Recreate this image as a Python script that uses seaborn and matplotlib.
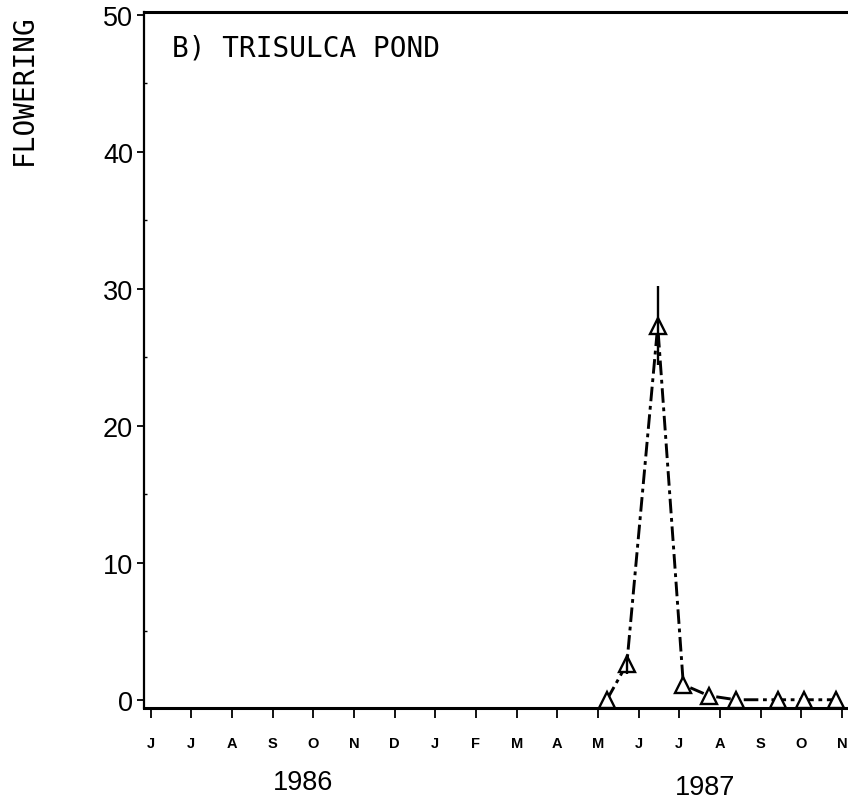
import numpy as np
import pandas as pd
import seaborn as sns
import matplotlib.pyplot as plt
from matplotlib.ticker import MultipleLocator

# month index: 0 = June 1986 ... 17 = Nov 1987
month_labels = ['J', 'J', 'A', 'S', 'O', 'N', 'D', 'J', 'F', 'M', 'A', 'M',
                'J', 'J', 'A', 'S', 'O', 'N']
sample_month = [11.22, 11.71, 12.47, 13.10, 13.72, 14.39, 15.44, 16.07, 16.85]
flowering = [0.0, 2.6, 27.3, 1.1, 0.3, 0.0, 0.0, 0.0, 0.0]
flowering_err = [0.0, 0.7, 2.9, 0.0, 0.0, 0.0, 0.0, 0.0, 0.0]
y_ticks = [0, 10, 20, 30, 40, 50]

df = pd.DataFrame({'month': sample_month, 'flowering': flowering,
                   'err': flowering_err})

sns.set_style("ticks")
plt.rcParams['font.family'] = ['Liberation Sans', 'DejaVu Sans']
plt.rcParams['text.color'] = 'black'
plt.rcParams['axes.edgecolor'] = 'black'
plt.rcParams['xtick.color'] = 'black'
plt.rcParams['ytick.color'] = 'black'

fig = plt.figure(figsize=(8.48, 8.04), dpi=100)
ax = fig.add_axes([0.1702, 0.1182, 0.8298, 0.8657])

sns.lineplot(data=df, x='month', y='flowering', ax=ax, color='black',
             lw=2.1, marker='^', markersize=11, markerfacecolor='white',
             markeredgecolor='black', markeredgewidth=1.7, zorder=2)
ax.lines[0].set_linestyle((0, (5, 1.6, 1.3, 1.6)))

sub = df[df['err'] > 0]
ax.errorbar(sub['month'], sub['flowering'], yerr=sub['err'], fmt='none',
            ecolor='black', elinewidth=1.7, capsize=0, zorder=3)

ax.set_xlim(-0.157, 17.15)
ax.set_ylim(-0.6, 50.2)
ax.set_xticks(range(len(month_labels)))
ax.set_xticklabels(month_labels, fontsize=10.5, fontweight='bold')
ax.set_yticks(y_ticks)
ax.set_yticklabels([str(v) for v in y_ticks], fontsize=19.5)
ax.yaxis.set_minor_locator(MultipleLocator(5))
ax.tick_params(axis='x', direction='out', length=7, width=1.3, pad=13)
ax.tick_params(axis='y', which='major', direction='out', length=5, width=1.3, pad=3)
ax.tick_params(axis='y', which='minor', direction='in', length=2.5, width=1)
ax.set_xlabel('')
ax.set_ylabel('')

ax.spines['right'].set_visible(False)
ax.spines['left'].set_linewidth(1.6)
ax.spines['bottom'].set_linewidth(2.2)
ax.spines['top'].set_linewidth(2.2)

fig.text(0.2025, 0.9295, 'B) TRISULCA POND', fontsize=20,
         family=['DejaVu Sans Mono'], ha='left', va='baseline')
fig.text(0.0283, 0.7948, 'FLOWERING', fontsize=20, rotation=90,
         family=['DejaVu Sans Mono'], ha='center', va='bottom')
fig.text(0.3573, 0.0261, '1986', fontsize=19.5, ha='center', va='center')
fig.text(0.832, 0.0199, '1987', fontsize=19.5, ha='center', va='center')

fig.savefig('out.png', dpi=100)
